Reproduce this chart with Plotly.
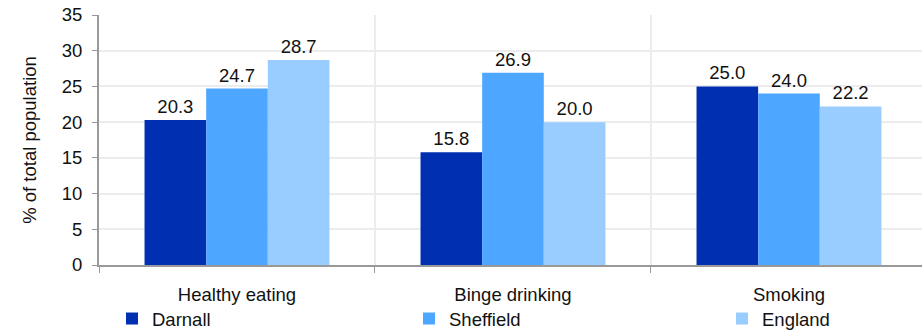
import plotly.graph_objects as go

categories = ["Healthy eating", "Binge drinking", "Smoking"]
darnall = [20.3, 15.8, 25.0]
sheffield = [24.7, 26.9, 24.0]
england = [28.7, 20.0, 22.2]
series_names = ["Darnall", "Sheffield", "England"]
colors = ["#002fb2", "#4da6ff", "#99ccff"]
y_ticks = [0, 5, 10, 15, 20, 25, 30, 35]

FONT = "Liberation Sans, Arial, sans-serif"
FS = 18.5
W, H = 922, 332
legend_ids = ["legend", "legend2", "legend3"]
legend_x = [112, 409, 722]

fig = go.Figure()
for name, vals, col, lid in zip(series_names, [darnall, sheffield, england], colors, legend_ids):
    fig.add_trace(go.Bar(
        x=categories, y=vals, name=name, marker=dict(color=col, line=dict(width=0)),
        text=[f"{v:.1f}" for v in vals], textposition="outside",
        textfont=dict(family=FONT, size=FS, color="#111111"), cliponaxis=False,
        legend=lid,
    ))

legend_common = dict(orientation="h", xref="container", xanchor="left",
                     yref="container", y=1 - 319/H, yanchor="middle",
                     font=dict(family=FONT, size=FS, color="#111111"),
                     itemclick=False, borderwidth=0, bgcolor="rgba(0,0,0,0)")

fig.update_layout(
    width=W, height=H,
    margin=dict(l=99, r=0, t=15, b=67),
    paper_bgcolor="white", plot_bgcolor="white",
    barmode="group", bargap=0.33, bargroupgap=0,
    font=dict(family=FONT, size=FS, color="#111111"),
    showlegend=True,
    legend=dict(x=legend_x[0]/W, **legend_common),
    legend2=dict(x=legend_x[1]/W, **legend_common),
    legend3=dict(x=legend_x[2]/W, **legend_common),
)
fig.update_xaxes(
    range=[-0.5, 2.482], tickson="boundaries", ticks="outside", ticklen=6,
    tickcolor="#999999", showgrid=True, gridcolor="#ececec", gridwidth=1.5,
    showline=True, linecolor="#999999", linewidth=2, zeroline=False,
    tickfont=dict(family=FONT, size=FS, color="#111111"),
    automargin=False, ticklabelstandoff=12,
)
fig.update_yaxes(
    range=[0, 35], tickvals=y_ticks, ticks="outside", ticklen=5, tickcolor="#999999",
    showgrid=True, gridcolor="#ececec", gridwidth=1.5,
    showline=True, linecolor="#999999", linewidth=2, zeroline=False,
    title=dict(text="% of total population", font=dict(family=FONT, size=FS, color="#111111"), standoff=20),
    tickfont=dict(family=FONT, size=FS, color="#111111"),
    automargin=False, ticklabelstandoff=6, ticklabeloverflow="allow",
)
fig.write_html("out.html", config={"displayModeBar": False},
               post_script="document.body.style.margin='0';")
